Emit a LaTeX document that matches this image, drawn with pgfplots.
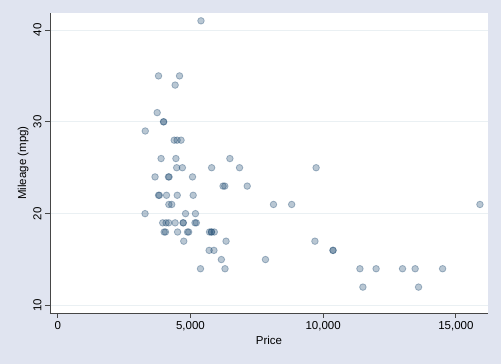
\documentclass[border=0pt]{standalone}
\usepackage{pgfplots}
\pgfplotsset{compat=1.18}
\usepackage{fontspec}
\setmainfont{Liberation Sans}
\definecolor{bgcol}{RGB}{224,228,240}
\definecolor{gridcol}{RGB}{234,240,243}
\definecolor{stnavy}{RGB}{26,71,111}
\definecolor{axcol}{RGB}{70,70,70}
\begin{document}
\begin{tikzpicture}
\fill[bgcol] (0,0) rectangle (501pt,364pt);
\begin{axis}[
  at={(50pt,51pt)}, anchor=south west,
  width=438pt, height=300pt, scale only axis,
  xmin=-290, xmax=16210, ymin=9.18, ymax=41.85,
  axis background/.style={fill=white},
  axis x line*=bottom, axis y line*=left,
  axis line style={axcol, line width=0.8pt},
  x axis line style={-}, y axis line style={-},
  xtick={0,5000,10000,15000}, ytick={10,20,30,40},
  tick align=outside, major tick length=5pt,
  tick style={axcol, line width=0.8pt},
  ymajorgrids, major grid style={gridcol, line width=0.8pt},
  /pgf/number format/assume math mode=true,
  /pgf/number format/1000 sep={,},
  scaled x ticks=false,
  ticklabel style={font=\fontsize{11.5}{13}\selectfont},
  yticklabel style={rotate=90, anchor=south},
  label style={font=\fontsize{11.5}{13}\selectfont},
  xlabel={Price}, ylabel={Mileage (mpg)},
  xlabel style={yshift=2pt},
  ylabel style={yshift=-2pt},
  clip=false,
]
\addplot[only marks, mark=*, mark size=3.3pt,
  mark options={fill=stnavy, fill opacity=0.3, draw=stnavy, draw opacity=0.35, line width=0.8pt}]
  table[row sep=\\]{
x y\\
4099 22\\ 4749 17\\ 3799 22\\ 4816 20\\ 7827 15\\ 5788 18\\ 4453 26\\ 5189 20\\
10372 16\\ 4082 19\\ 11385 14\\ 14500 14\\ 15906 21\\ 3299 29\\ 5705 16\\ 4504 22\\
5104 22\\ 3667 24\\ 3955 19\\ 3984 30\\ 4010 18\\ 5886 16\\ 6342 17\\ 4389 28\\
4187 21\\ 11497 12\\ 13594 12\\ 13466 14\\ 3829 22\\ 5379 14\\ 6165 15\\ 4516 18\\
6303 14\\ 3291 20\\ 8814 21\\ 5172 19\\ 4733 19\\ 4890 18\\ 4181 19\\ 4195 24\\
10371 16\\ 4647 28\\ 4425 34\\ 4482 25\\ 6486 26\\ 4060 18\\ 5798 18\\ 4934 18\\
5222 19\\ 4723 19\\ 4424 19\\ 4172 24\\ 9690 17\\ 6295 23\\ 9735 25\\ 6229 23\\
4589 35\\ 5079 24\\ 8129 21\\ 4296 21\\ 5799 25\\ 4499 28\\ 3995 30\\ 12990 14\\
3895 26\\ 3798 35\\ 5899 18\\ 3748 31\\ 5719 18\\ 7140 23\\ 5397 41\\ 4697 25\\
6850 25\\ 11995 14\\
};
\end{axis}
\end{tikzpicture}
\end{document}
